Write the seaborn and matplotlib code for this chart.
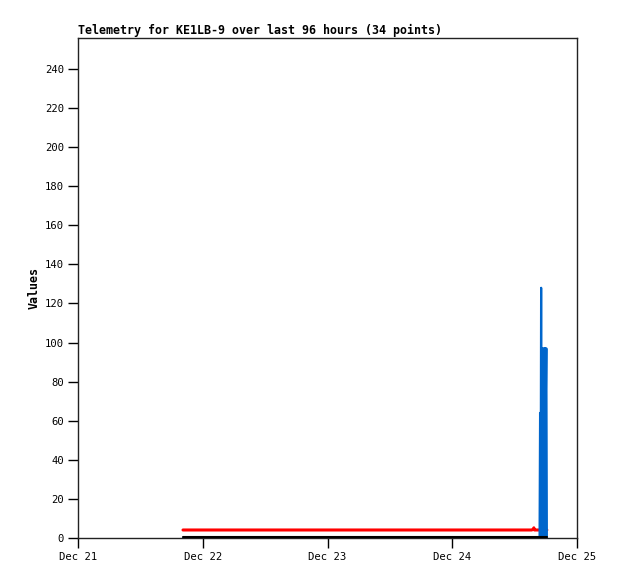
import matplotlib
matplotlib.use("Agg")
import matplotlib.pyplot as plt
import matplotlib.dates as mdates
import numpy as np
import pandas as pd
import seaborn as sns

# hours after Dec 21 00:00 for each of the 34 telemetry points
hours = [20.2, 86.5, 86.9, 87.3, 87.6, 87.7, 87.8, 88.0, 88.2, 88.4,
         88.6, 88.8, 88.9, 89.0, 89.1, 89.15, 89.2, 89.25, 89.3, 89.35,
         89.4, 89.45, 89.5, 89.55, 89.6, 89.65, 89.7, 89.75, 89.8, 89.85,
         89.9, 90.0, 90.1, 90.2]

red_vals = [4.1, 4.1, 4.1, 4.1, 4.6, 5.2, 4.1, 4.1, 4.1, 4.1,
            4.1, 4.1, 4.1, 4.1, 4.1, 4.1, 4.1, 4.1, 4.1, 4.1,
            4.1, 4.1, 4.1, 4.1, 4.1, 4.1, 4.1, 4.1, 4.1, 4.1,
            4.1, 4.1, 4.1, 4.1]

black_vals = [0.3] * 34

blue_vals = [0, 0, 0, 0, 0, 0, 0, 0, 0, 0,
             0, 0, 64, 0, 128, 48, 64, 0, 64, 97,
             0, 72, 48, 97, 0, 0, 72, 48, 97, 0,
             97, 72, 97, 0]

base = pd.Timestamp("2023-12-21")
times = [base + pd.Timedelta(hours=h) for h in hours]
df = pd.DataFrame({"time": times, "red": red_vals, "black": black_vals, "blue": blue_vals})

sns.set_style("white")
plt.rcParams['font.family'] = ['DejaVu Sans Mono']
plt.rcParams['text.color'] = 'black'
plt.rcParams['axes.labelcolor'] = 'black'

fig = plt.figure(figsize=(6.18, 5.79), dpi=100)
ax = fig.add_axes([78 / 618, 41 / 579, 499 / 618, 500 / 579])

# red at the back, blue over it, black zero line on top
sns.lineplot(data=df, x="time", y="red", color="#ff0000", linewidth=2.2, ax=ax, zorder=1)
sns.lineplot(data=df, x="time", y="blue", color="#0066cc", linewidth=1.6, ax=ax, zorder=2)
sns.lineplot(data=df, x="time", y="black", color="#000000", linewidth=1.5, ax=ax, zorder=3)

ax.set_xlim(base, base + pd.Timedelta(days=4))
ax.set_ylim(0, 255.8)
ax.set_yticks(np.arange(0, 241, 20))
ax.xaxis.set_major_locator(mdates.DayLocator())
ax.xaxis.set_major_formatter(mdates.DateFormatter("%b %d"))

ax.tick_params(axis="both", direction="out", length=7, width=1, labelsize=7.6,
               left=True, bottom=True, colors="black", pad=3)
for s in ax.spines.values():
    s.set_color("#222222")
    s.set_linewidth(1)

ax.set_xlabel("")
ax.set_ylabel("Values", fontsize=8.4, fontweight="bold", labelpad=3)
ax.set_title("Telemetry for KE1LB-9 over last 96 hours (34 points)",
             loc="left", fontsize=8.4, fontweight="bold", pad=3, color="black")

fig.savefig("out.png", dpi=100, facecolor="white")
